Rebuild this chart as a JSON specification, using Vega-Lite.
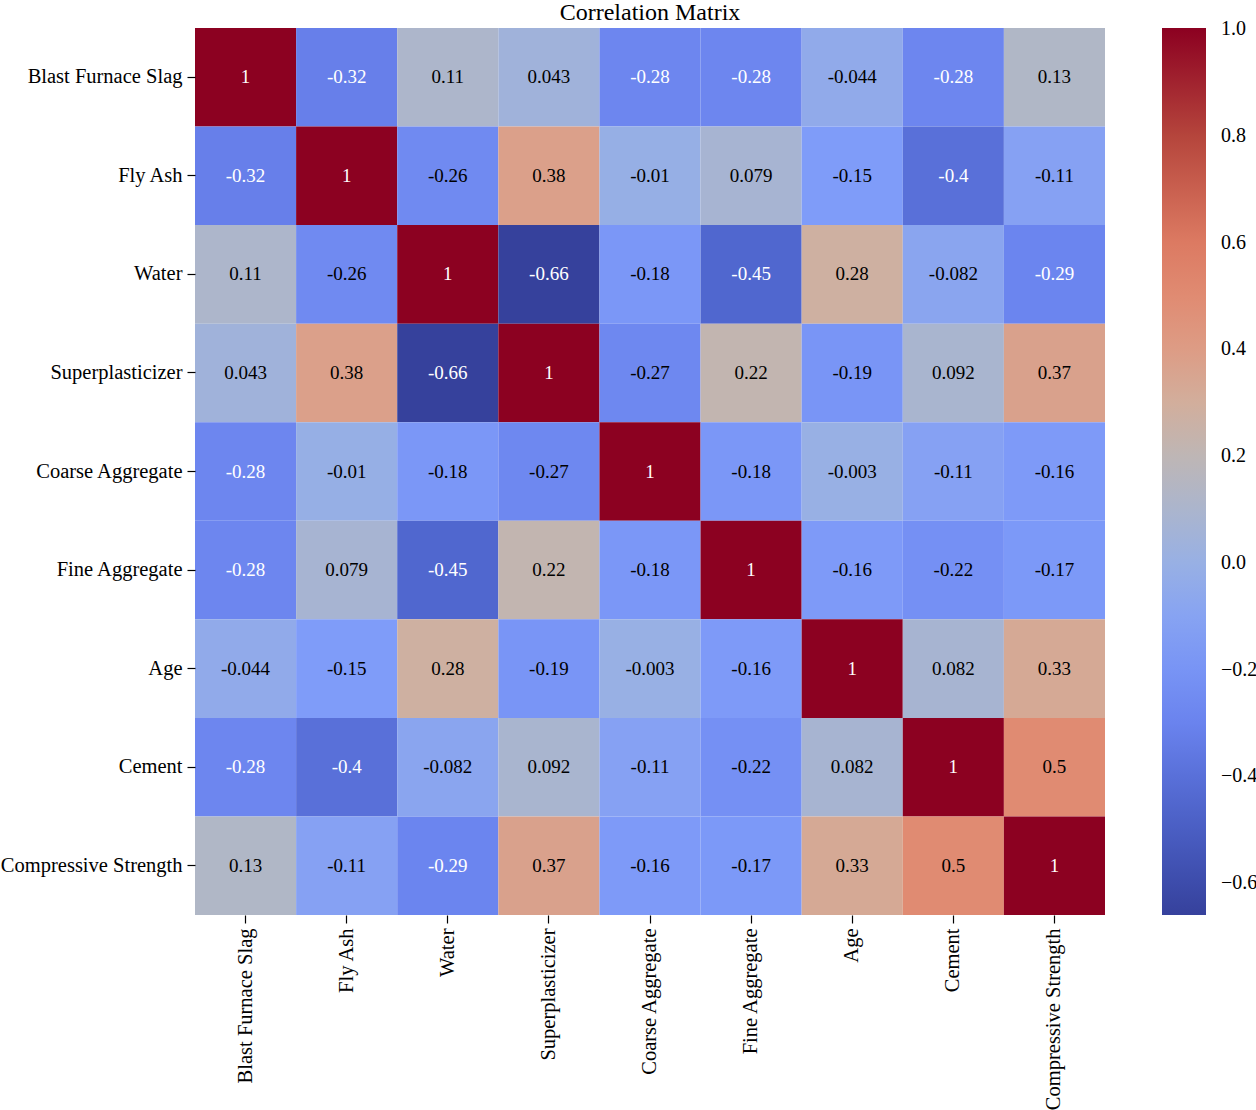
{
  "$schema": "https://vega.github.io/schema/vega-lite/v6.json",
  "autosize": {"type": "none"},
  "padding": {"left": 195, "top": 28, "right": 151, "bottom": 195},
  "width": 910,
  "height": 887,
  "title": {"text": "Correlation Matrix", "font": "Liberation Serif", "fontSize": 24, "fontWeight": "normal", "color": "black", "anchor": "middle", "offset": 3},
  "config": {
    "view": {"stroke": null},
    "axis": {"domain": false, "grid": false, "ticks": true, "tickColor": "black", "tickSize": 8, "tickWidth": 1.2, "labelPadding": 5, "labelFont": "Liberation Serif", "labelFontSize": 20.5, "labelColor": "black", "labelLimit": 400, "title": null}
  },
  "data": {"values": [
    {"row": "Blast Furnace Slag", "col": "Blast Furnace Slag", "v": 1, "label": "1"},
    {"row": "Blast Furnace Slag", "col": "Fly Ash", "v": -0.32, "label": "-0.32"},
    {"row": "Blast Furnace Slag", "col": "Water", "v": 0.11, "label": "0.11"},
    {"row": "Blast Furnace Slag", "col": "Superplasticizer", "v": 0.043, "label": "0.043"},
    {"row": "Blast Furnace Slag", "col": "Coarse Aggregate", "v": -0.28, "label": "-0.28"},
    {"row": "Blast Furnace Slag", "col": "Fine Aggregate", "v": -0.28, "label": "-0.28"},
    {"row": "Blast Furnace Slag", "col": "Age", "v": -0.044, "label": "-0.044"},
    {"row": "Blast Furnace Slag", "col": "Cement", "v": -0.28, "label": "-0.28"},
    {"row": "Blast Furnace Slag", "col": "Compressive Strength", "v": 0.13, "label": "0.13"},

    {"row": "Fly Ash", "col": "Blast Furnace Slag", "v": -0.32, "label": "-0.32"},
    {"row": "Fly Ash", "col": "Fly Ash", "v": 1, "label": "1"},
    {"row": "Fly Ash", "col": "Water", "v": -0.26, "label": "-0.26"},
    {"row": "Fly Ash", "col": "Superplasticizer", "v": 0.38, "label": "0.38"},
    {"row": "Fly Ash", "col": "Coarse Aggregate", "v": -0.01, "label": "-0.01"},
    {"row": "Fly Ash", "col": "Fine Aggregate", "v": 0.079, "label": "0.079"},
    {"row": "Fly Ash", "col": "Age", "v": -0.15, "label": "-0.15"},
    {"row": "Fly Ash", "col": "Cement", "v": -0.4, "label": "-0.4"},
    {"row": "Fly Ash", "col": "Compressive Strength", "v": -0.11, "label": "-0.11"},

    {"row": "Water", "col": "Blast Furnace Slag", "v": 0.11, "label": "0.11"},
    {"row": "Water", "col": "Fly Ash", "v": -0.26, "label": "-0.26"},
    {"row": "Water", "col": "Water", "v": 1, "label": "1"},
    {"row": "Water", "col": "Superplasticizer", "v": -0.66, "label": "-0.66"},
    {"row": "Water", "col": "Coarse Aggregate", "v": -0.18, "label": "-0.18"},
    {"row": "Water", "col": "Fine Aggregate", "v": -0.45, "label": "-0.45"},
    {"row": "Water", "col": "Age", "v": 0.28, "label": "0.28"},
    {"row": "Water", "col": "Cement", "v": -0.082, "label": "-0.082"},
    {"row": "Water", "col": "Compressive Strength", "v": -0.29, "label": "-0.29"},

    {"row": "Superplasticizer", "col": "Blast Furnace Slag", "v": 0.043, "label": "0.043"},
    {"row": "Superplasticizer", "col": "Fly Ash", "v": 0.38, "label": "0.38"},
    {"row": "Superplasticizer", "col": "Water", "v": -0.66, "label": "-0.66"},
    {"row": "Superplasticizer", "col": "Superplasticizer", "v": 1, "label": "1"},
    {"row": "Superplasticizer", "col": "Coarse Aggregate", "v": -0.27, "label": "-0.27"},
    {"row": "Superplasticizer", "col": "Fine Aggregate", "v": 0.22, "label": "0.22"},
    {"row": "Superplasticizer", "col": "Age", "v": -0.19, "label": "-0.19"},
    {"row": "Superplasticizer", "col": "Cement", "v": 0.092, "label": "0.092"},
    {"row": "Superplasticizer", "col": "Compressive Strength", "v": 0.37, "label": "0.37"},

    {"row": "Coarse Aggregate", "col": "Blast Furnace Slag", "v": -0.28, "label": "-0.28"},
    {"row": "Coarse Aggregate", "col": "Fly Ash", "v": -0.01, "label": "-0.01"},
    {"row": "Coarse Aggregate", "col": "Water", "v": -0.18, "label": "-0.18"},
    {"row": "Coarse Aggregate", "col": "Superplasticizer", "v": -0.27, "label": "-0.27"},
    {"row": "Coarse Aggregate", "col": "Coarse Aggregate", "v": 1, "label": "1"},
    {"row": "Coarse Aggregate", "col": "Fine Aggregate", "v": -0.18, "label": "-0.18"},
    {"row": "Coarse Aggregate", "col": "Age", "v": -0.003, "label": "-0.003"},
    {"row": "Coarse Aggregate", "col": "Cement", "v": -0.11, "label": "-0.11"},
    {"row": "Coarse Aggregate", "col": "Compressive Strength", "v": -0.16, "label": "-0.16"},

    {"row": "Fine Aggregate", "col": "Blast Furnace Slag", "v": -0.28, "label": "-0.28"},
    {"row": "Fine Aggregate", "col": "Fly Ash", "v": 0.079, "label": "0.079"},
    {"row": "Fine Aggregate", "col": "Water", "v": -0.45, "label": "-0.45"},
    {"row": "Fine Aggregate", "col": "Superplasticizer", "v": 0.22, "label": "0.22"},
    {"row": "Fine Aggregate", "col": "Coarse Aggregate", "v": -0.18, "label": "-0.18"},
    {"row": "Fine Aggregate", "col": "Fine Aggregate", "v": 1, "label": "1"},
    {"row": "Fine Aggregate", "col": "Age", "v": -0.16, "label": "-0.16"},
    {"row": "Fine Aggregate", "col": "Cement", "v": -0.22, "label": "-0.22"},
    {"row": "Fine Aggregate", "col": "Compressive Strength", "v": -0.17, "label": "-0.17"},

    {"row": "Age", "col": "Blast Furnace Slag", "v": -0.044, "label": "-0.044"},
    {"row": "Age", "col": "Fly Ash", "v": -0.15, "label": "-0.15"},
    {"row": "Age", "col": "Water", "v": 0.28, "label": "0.28"},
    {"row": "Age", "col": "Superplasticizer", "v": -0.19, "label": "-0.19"},
    {"row": "Age", "col": "Coarse Aggregate", "v": -0.003, "label": "-0.003"},
    {"row": "Age", "col": "Fine Aggregate", "v": -0.16, "label": "-0.16"},
    {"row": "Age", "col": "Age", "v": 1, "label": "1"},
    {"row": "Age", "col": "Cement", "v": 0.082, "label": "0.082"},
    {"row": "Age", "col": "Compressive Strength", "v": 0.33, "label": "0.33"},

    {"row": "Cement", "col": "Blast Furnace Slag", "v": -0.28, "label": "-0.28"},
    {"row": "Cement", "col": "Fly Ash", "v": -0.4, "label": "-0.4"},
    {"row": "Cement", "col": "Water", "v": -0.082, "label": "-0.082"},
    {"row": "Cement", "col": "Superplasticizer", "v": 0.092, "label": "0.092"},
    {"row": "Cement", "col": "Coarse Aggregate", "v": -0.11, "label": "-0.11"},
    {"row": "Cement", "col": "Fine Aggregate", "v": -0.22, "label": "-0.22"},
    {"row": "Cement", "col": "Age", "v": 0.082, "label": "0.082"},
    {"row": "Cement", "col": "Cement", "v": 1, "label": "1"},
    {"row": "Cement", "col": "Compressive Strength", "v": 0.5, "label": "0.5"},

    {"row": "Compressive Strength", "col": "Blast Furnace Slag", "v": 0.13, "label": "0.13"},
    {"row": "Compressive Strength", "col": "Fly Ash", "v": -0.11, "label": "-0.11"},
    {"row": "Compressive Strength", "col": "Water", "v": -0.29, "label": "-0.29"},
    {"row": "Compressive Strength", "col": "Superplasticizer", "v": 0.37, "label": "0.37"},
    {"row": "Compressive Strength", "col": "Coarse Aggregate", "v": -0.16, "label": "-0.16"},
    {"row": "Compressive Strength", "col": "Fine Aggregate", "v": -0.17, "label": "-0.17"},
    {"row": "Compressive Strength", "col": "Age", "v": 0.33, "label": "0.33"},
    {"row": "Compressive Strength", "col": "Cement", "v": 0.5, "label": "0.5"},
    {"row": "Compressive Strength", "col": "Compressive Strength", "v": 1, "label": "1"}
  ]},
  "encoding": {
    "x": {"field": "col", "type": "nominal", "sort": ["Blast Furnace Slag", "Fly Ash", "Water", "Superplasticizer", "Coarse Aggregate", "Fine Aggregate", "Age", "Cement", "Compressive Strength"], "scale": {"paddingInner": 0, "paddingOuter": 0}, "axis": {"labelAngle": -90, "orient": "bottom"}},
    "y": {"field": "row", "type": "nominal", "sort": ["Blast Furnace Slag", "Fly Ash", "Water", "Superplasticizer", "Coarse Aggregate", "Fine Aggregate", "Age", "Cement", "Compressive Strength"], "scale": {"paddingInner": 0, "paddingOuter": 0}}
  },
  "layer": [
    {
      "mark": {"type": "rect", "strokeWidth": 0},
      "encoding": {
        "color": {
          "field": "v", "type": "quantitative",
          "scale": {
            "type": "linear",
            "domain": [-0.66, -0.45, -0.3, -0.15, 0.0, 0.17, 0.3, 0.45, 0.6, 0.8, 1.002],
            "range": ["#36419c", "#5067cf", "#6a83ee", "#7f9cf9", "#98b0e4", "#b8b9bd", "#d2ae9c", "#e2937a", "#dc7a62", "#b5453c", "#8c0021"],
            "interpolate": "rgb"
          },
          "legend": {
            "title": null, "direction": "vertical", "orient": "right", "offset": 57, "padding": 0,
            "gradientLength": 887, "gradientThickness": 44, "gradientStrokeWidth": 0,
            "values": [-0.6, -0.4, -0.2, 0, 0.2, 0.4, 0.6, 0.8, 1.0], "format": ".1f",
            "labelFont": "Liberation Serif", "labelFontSize": 20, "labelColor": "black",
            "labelOffset": 15, "labelOverlap": false, "labelBaseline": "middle"
          }
        }
      }
    },
    {
      "mark": {"type": "text", "font": "Liberation Serif", "fontSize": 19},
      "encoding": {
        "text": {"field": "label", "type": "nominal"},
        "color": {"condition": {"test": "datum.v < -0.275 || datum.v > 0.7", "value": "white"}, "value": "black"}
      }
    }
  ]
}
